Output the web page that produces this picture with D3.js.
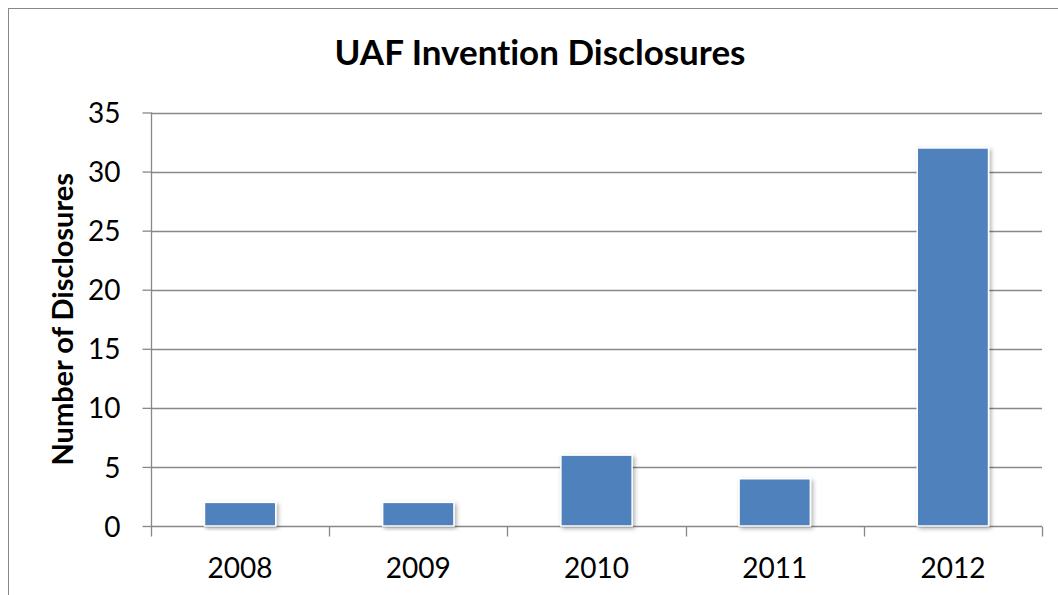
<!DOCTYPE html>
<html>
<head>
<meta charset="utf-8">
<script src="https://cdn.jsdelivr.net/npm/d3@7"></script>
<style>
  body { margin: 0; background: #fff; }
  svg { display: block; }
  text { font-family: Lato, "Open Sans", sans-serif; fill: #000; font-variant-ligatures: none; }
</style>
</head>
<body>
<div id="chart"></div>
<script>
var years = ["2008", "2009", "2010", "2011", "2012"];
var disclosures = [2, 2, 6, 4, 32];
var yTicks = [0, 5, 10, 15, 20, 25, 30, 35];

var w = 1058, h = 595;
var margin = {left: 151, right: 16, top: 112.5, bottom: 69};

var svg = d3.select("#chart").append("svg")
  .attr("width", w)
  .attr("height", h);

// shadow under the bars
var defs = svg.append("defs");
var shadow = defs.append("filter").attr("id", "barShadow")
  .attr("x", "-20%").attr("y", "-20%").attr("width", "140%").attr("height", "140%");
shadow.append("feDropShadow")
  .attr("dx", 2).attr("dy", 2).attr("stdDeviation", 2)
  .attr("flood-color", "#000").attr("flood-opacity", 0.3);

// outer frame
svg.append("rect")
  .attr("x", 8.5).attr("y", 8.5)
  .attr("width", 1200).attr("height", 800)
  .attr("fill", "none")
  .attr("stroke", "#888");

var x = d3.scaleBand()
  .domain(years)
  .range([margin.left, w - margin.right])
  .paddingInner(0.6)
  .paddingOuter(0.3);

var y = d3.scaleLinear()
  .domain([0, 35])
  .range([h - margin.bottom, margin.top]);

// gridlines
svg.append("g")
  .selectAll("line")
  .data(yTicks.slice(1))
  .enter().append("line")
  .attr("x1", margin.left)
  .attr("x2", w - margin.right)
  .attr("y1", function (d) { return Math.round(y(d)) + 0.5; })
  .attr("y2", function (d) { return Math.round(y(d)) + 0.5; })
  .attr("stroke", "#888")
  .attr("stroke-width", 1.3);

// y axis
var yAxis = svg.append("g")
  .attr("class", "axis")
  .attr("transform", "translate(" + (margin.left + 0.5) + ",0)")
  .call(d3.axisLeft(y).tickValues(yTicks).tickSize(9).tickPadding(22));
yAxis.selectAll("line, path").attr("stroke", "#888").attr("stroke-width", 1.3);
yAxis.select(".domain").attr("d", "M0," + y(35) + "V" + y(0));
yAxis.selectAll("text").attr("font-size", 28).attr("dy", "0.36em")
  .attr("font-family", null);

// x axis, ticks between categories
var bounds = years.map(function (d) { return x(d) - x.step() * x.paddingInner() / 2; });
bounds[0] = margin.left;
bounds.push(w - margin.right);

var xAxis = svg.append("g")
  .attr("class", "axis")
  .attr("transform", "translate(0," + (Math.round(y(0)) + 0.5) + ")");
xAxis.append("line")
  .attr("x1", margin.left).attr("x2", w - margin.right)
  .attr("stroke", "#888").attr("stroke-width", 1.3);
xAxis.selectAll(".tick")
  .data(bounds)
  .enter().append("line")
  .attr("x1", function (d) { return Math.round(d) + 0.5; })
  .attr("x2", function (d) { return Math.round(d) + 0.5; })
  .attr("y1", 0).attr("y2", 10)
  .attr("stroke", "#888").attr("stroke-width", 1.3);
xAxis.selectAll("text")
  .data(years)
  .enter().append("text")
  .attr("x", function (d) { return x(d) + x.bandwidth() / 2; })
  .attr("y", 51)
  .attr("text-anchor", "middle")
  .attr("font-size", 28)
  .text(function (d) { return d; });

// bars
svg.append("g")
  .selectAll("rect")
  .data(disclosures)
  .enter().append("rect")
  .attr("x", function (d, i) { return x(years[i]); })
  .attr("y", function (d) { return y(d); })
  .attr("width", x.bandwidth())
  .attr("height", function (d) { return y(0) - y(d); })
  .attr("fill", "#4F81BD")
  .attr("stroke", "#fff")
  .attr("stroke-width", 1.5)
  .attr("filter", "url(#barShadow)");

// title
svg.append("text")
  .attr("x", 540)
  .attr("y", 65)
  .attr("text-anchor", "middle")
  .attr("font-weight", "bold")
  .attr("font-size", 35)
  .text("UAF Invention Disclosures");

// y axis title
svg.append("text")
  .attr("transform", "translate(73," + ((y(0) + y(35)) / 2) + ") rotate(-90)")
  .attr("text-anchor", "middle")
  .attr("font-weight", "bold")
  .attr("font-size", 29)
  .text("Number of Disclosures");
</script>
</body>
</html>
